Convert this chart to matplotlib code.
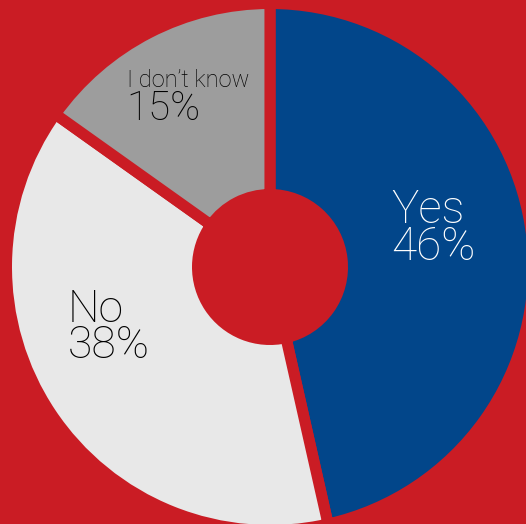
import matplotlib.pyplot as plt

# survey answers
labels = ["Yes", "No", "I don't know"]
shares = [46, 38, 15]
colors = ["#02468A", "#E8E8E8", "#9D9D9D"]
text_colors = ["white", "black", "black"]

red = "#CA1C24"
W, H = 526, 524

fig = plt.figure(figsize=(W / 100, H / 100), dpi=100, facecolor=red)
ax = fig.add_axes([0, 0, 1, 1])
ax.set_facecolor(red)

cx, cy = 270, H - 267
lw = 8  # points, makes the red gaps between slices
half = lw / 72 * 100 / 2
outer = 258 + half
inner = 78 - half

ax.pie(shares, colors=colors, startangle=90, counterclock=False,
       center=(cx, cy), radius=outer,
       wedgeprops=dict(width=outer - inner, edgecolor=red, linewidth=lw))

ax.set_xlim(0, W)
ax.set_ylim(0, H)
ax.set_aspect("auto")
ax.axis("off")

font = "Roboto"
wt = "light"
# Yes / No: name and percentage as one two-line label, left aligned
for lab, val, tc, (x, y, s) in zip(labels[:2], shares[:2], text_colors[:2],
                                   [(391, 260, 33), (68, 358, 32)]):
    ax.text(x, H - y, f"{lab}\n{val}%", color=tc, fontsize=s, family=font,
            fontweight=wt, ha="left", va="baseline", linespacing=0.8)

# the small slice gets a smaller name above its percentage
ax.text(127, H - 87, labels[2].replace("'", "\u2019"), color=text_colors[2],
        fontsize=17, family=font, fontweight=wt, ha="left", va="baseline")
ax.text(126, H - 120, f"{shares[2]}%", color=text_colors[2],
        fontsize=29, family=font, fontweight=wt, ha="left", va="baseline")

fig.savefig("out.png", dpi=100, facecolor=red)
